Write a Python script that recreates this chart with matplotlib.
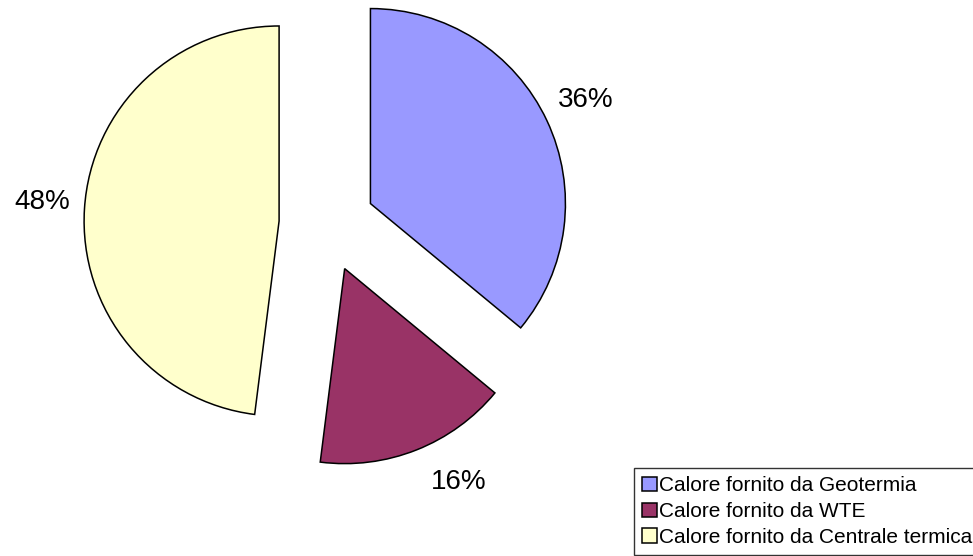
import matplotlib.pyplot as plt

plt.rcParams["font.family"] = ["Liberation Sans", "DejaVu Sans"]

# Quote di calore fornito (%)
fonti = [
    "Calore fornito da Geotermia",
    "Calore fornito da WTE",
    "Calore fornito da Centrale termica",
]
quote = [36, 16, 48]
colori = ["#9999FF", "#993366", "#FFFFCC"]

W, H = 973, 556
fig = plt.figure(figsize=(W / 100, H / 100), dpi=100)
ax = fig.add_axes([0, 0, 1, 1])

raggio = 195
centro = (327, H - 224)
wedges, _, autotexts = ax.pie(
    quote,
    colors=colori,
    startangle=90,
    counterclock=False,
    radius=raggio,
    center=centro,
    explode=[48] * len(quote),
    autopct="%1.0f%%",
    pctdistance=1.2,
    wedgeprops=dict(edgecolor="black", linewidth=1.1),
    textprops=dict(fontsize=20, color="black"),
)
# piccoli spostamenti delle etichette percentuali
spost_x = [4, 28, -3]
for t, dx in zip(autotexts, spost_x):
    x, y = t.get_position()
    t.set_position((x + dx, y + 4))

ax.set_xlim(0, W)
ax.set_ylim(0, H)
ax.set_aspect("equal")
ax.axis("off")

leg = ax.legend(
    wedges,
    fonti,
    loc="lower left",
    bbox_to_anchor=(634 / W, 1 / H),
    bbox_transform=fig.transFigure,
    fontsize=15,
    frameon=True,
    fancybox=False,
    handlelength=0.68,
    handleheight=0.68,
    handletextpad=0.1,
    labelspacing=0.32,
    borderpad=0.4,
    borderaxespad=0,
)
leg.get_frame().set_edgecolor("black")
leg.get_frame().set_linewidth(1)

fig.savefig("out.png", dpi=100)
